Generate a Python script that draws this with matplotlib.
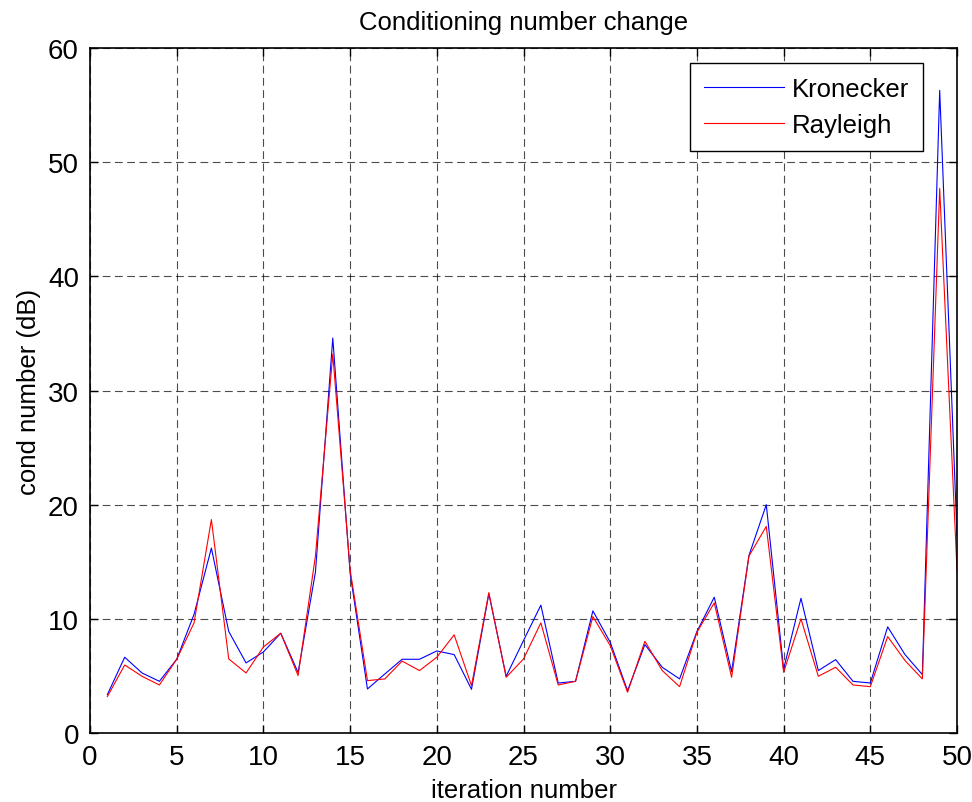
import matplotlib.pyplot as plt

plt.rcParams['font.family'] = ['Liberation Sans', 'DejaVu Sans']

iters = list(range(1, 51))

kronecker = [3.36, 6.64, 5.26, 4.53, 6.46, 10.4, 16.2, 8.9, 6.14, 7.1,
             8.74, 5.3, 14.1, 34.6, 14.0, 3.86, 5.17, 6.46, 6.46, 7.19,
             6.87, 3.83, 12.2, 4.97, 8.1, 11.2, 4.38, 4.53, 10.7, 7.95,
             3.71, 7.75, 5.76, 4.74, 8.89, 11.9, 5.38, 15.55, 20.0, 5.61,
             11.8, 5.47, 6.43, 4.53, 4.38, 9.3, 6.87, 5.12, 56.3, 17.3]

rayleigh = [3.19, 5.96, 4.97, 4.21, 6.46, 9.65, 18.7, 6.49, 5.26, 7.54,
            8.74, 5.03, 15.5, 33.2, 14.3, 4.59, 4.74, 6.3, 5.47, 6.64,
            8.6, 4.15, 12.3, 4.88, 6.49, 9.65, 4.21, 4.53, 10.2, 7.66,
            3.57, 8.04, 5.47, 4.06, 8.83, 11.4, 4.88, 15.5, 18.1, 5.32,
            10.0, 4.97, 5.76, 4.21, 4.06, 8.45, 6.35, 4.74, 47.7, 14.2]

fig = plt.figure(figsize=(9.72, 8.03), dpi=100)
ax = fig.add_axes([0.0926, 0.0859, 0.892, 0.853])

ax.plot(iters, kronecker, color='blue', lw=0.8, label='Kronecker')
ax.plot(iters, rayleigh, color='red', lw=0.8, label='Rayleigh')

ax.set_xlim(0, 50)
ax.set_ylim(0, 60)
ax.set_xticks(range(0, 51, 5))
ax.set_yticks(range(0, 61, 10))
ax.grid(True, color='black', linestyle=(0, (7, 4)), lw=0.8, alpha=0.7)
ax.tick_params(direction='in', top=True, right=True, length=6, width=1,
               labelsize=20, pad=8)
for s in ax.spines.values():
    s.set_linewidth(1.2)

ax.set_title('Conditioning number change', fontsize=18.5, pad=14)
ax.set_xlabel('iteration number', fontsize=18.5, labelpad=6)
ax.set_ylabel('cond number (dB)', fontsize=18.5, labelpad=5)

leg = ax.legend(loc='upper right', bbox_to_anchor=(0.961, 0.978),
                borderaxespad=0, fontsize=18.5, handlelength=3.1,
                handletextpad=0.3, labelspacing=0.45, borderpad=0.55,
                fancybox=False, framealpha=1, edgecolor='black')
leg.get_frame().set_linewidth(1.0)

fig.savefig('out.png', dpi=100)
